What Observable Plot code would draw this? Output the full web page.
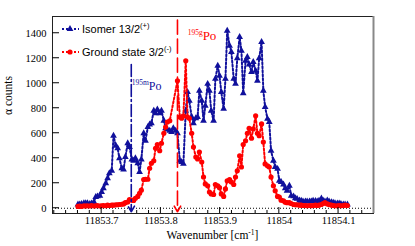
<!DOCTYPE html>
<html>
<head>
<meta charset="utf-8">
<script src="https://cdn.jsdelivr.net/npm/d3@7"></script>
<script src="https://cdn.jsdelivr.net/npm/@observablehq/plot@0.6"></script>
<style>
html,body{margin:0;padding:0;background:#fff;}
#chart svg{display:block;}
</style>
</head>
<body>
<div id="chart"></div>
<script>
// ---- data ----
const wavenumber = [
  11853.660, 11853.663, 11853.666, 11853.670, 11853.673, 11853.676, 11853.680, 11853.683, 11853.687, 11853.690,
  11853.693, 11853.697, 11853.700, 11853.703, 11853.707, 11853.710, 11853.713, 11853.717, 11853.720, 11853.724,
  11853.727, 11853.730, 11853.734, 11853.737, 11853.740, 11853.744, 11853.747, 11853.751, 11853.754, 11853.757,
  11853.761, 11853.764, 11853.767, 11853.771, 11853.774, 11853.778, 11853.781, 11853.784, 11853.788, 11853.791,
  11853.794, 11853.798, 11853.801, 11853.805, 11853.808, 11853.811, 11853.815, 11853.818, 11853.821, 11853.825,
  11853.828, 11853.832, 11853.835, 11853.838, 11853.842, 11853.845, 11853.848, 11853.852, 11853.855, 11853.859,
  11853.862, 11853.865, 11853.869, 11853.872, 11853.875, 11853.879, 11853.882, 11853.885, 11853.889, 11853.892,
  11853.896, 11853.899, 11853.902, 11853.906, 11853.909, 11853.912, 11853.916, 11853.919, 11853.923, 11853.926,
  11853.929, 11853.933, 11853.936, 11853.939, 11853.943, 11853.946, 11853.949, 11853.953, 11853.956, 11853.960,
  11853.963, 11853.966, 11853.970, 11853.973, 11853.976, 11853.980, 11853.983, 11853.986, 11853.990, 11853.993,
  11853.997, 11854.000, 11854.003, 11854.007, 11854.010, 11854.013, 11854.017, 11854.020, 11854.024, 11854.027,
  11854.030, 11854.034, 11854.037, 11854.040, 11854.044, 11854.047, 11854.051, 11854.054, 11854.057, 11854.061,
  11854.064, 11854.067, 11854.071, 11854.074, 11854.077, 11854.081, 11854.084, 11854.088, 11854.091, 11854.094,
  11854.098, 11854.101, 11854.104, 11854.108, 11854.111, 11854.115
];
const isomerCounts = [
  30, 30, 35, 40, 40, 40, 35, 38, 50, 90,
  95, 100, 130, 160, 200, 240, 280, 300, 580, 500,
  480, 400, 320, 310, 410, 520, 490, 390, 380, 400,
  360, 290, 390, 600, 540, 650, 670, 680, 780, 760,
  790, 760, 780, 700, 640, 630, 620, 610, 640, 620,
  600, 380, 370, 355, 780, 930, 860, 730, 680, 720,
  730, 940, 860, 700, 820, 995, 940, 780, 700, 1035,
  1140, 1060, 930, 795, 1035, 1420, 1300, 1250, 1035, 995,
  1200, 1370, 1260, 920, 1180, 1210, 1150, 1090, 1170, 1100,
  1020, 1200, 1330, 940, 810, 715, 690, 460, 380, 330,
  315, 220, 210, 190, 160, 140, 180, 100, 95, 80,
  75, 62, 60, 55, 55, 55, 55, 55, 60, 58,
  55, 60, 78, 60, 55, 62, 55, 48, 45, 40,
  38, 38, 35, 30, 30, 30
];
const groundCounts = [
  15, 18, 15, 20, 18, 20, 18, 22, 18, 20,
  22, 18, 20, 22, 20, 25, 22, 25, 25, 28,
  28, 30, 32, 35, 45, 50, 70, 65, 62, 80,
  95, 120, 145, 230, 232, 232, 320, 360, 380, 480,
  510, 460, 520, 600, 650, 690, 700, null, null, null,
  1020, 730, 720, 740, 1180, 730, 720, 600, 490, 410,
  395, 450, 370, 250, 195, 180, 130, 115, 110, 190,
  180, 165, 115, 95, 155, 220, 230, 210, 190, 250,
  300, 420, 330, 510, 540, 600, 640, 560, 635, 740,
  600, 580, 675, 530, 355, 340, 330, 250, 180, 140,
  95, 90, 65, 60, 48, 45, 45, 38, 30, 28,
  28, 25, 25, 22, 22, 20, 22, 20, 22, 25,
  22, 25, 30, 38, 45, 35, 30, 25, 22, 20,
  20, 22, 20, 22, 25, 22
];
const xTicks = [11853.7, 11853.8, 11853.9, 11854.0, 11854.1];
const xTickLabels = ["11853.7", "11853.8", "11853.9", "11854", "11854.1"];
const xMinorTicks = [11853.62, 11853.64, 11853.66, 11853.68, 11853.72, 11853.74, 11853.76, 11853.78,
  11853.82, 11853.84, 11853.86, 11853.88, 11853.92, 11853.94, 11853.96, 11853.98,
  11854.02, 11854.04, 11854.06, 11854.08, 11854.12, 11854.14];
const yTicks = [0, 200, 400, 600, 800, 1000, 1200, 1400];
const yTickLabels = ["0", "200", "400", "600", "800", "1000", "1200", "1400"];
const xDomain = [11853.617, 11854.159];
const yDomain = [-42, 1534];
const seriesNames = ["Isomer 13/2", "Ground state 3/2"];
const seriesSup = ["(+)", "(-)"];
const markerWavenumber = [11853.750, 11853.828];
const markerTop = [1150, 1505];
const markerBottom = [-28, -28];
const markerIsotope = ["195m", "195g"];
const markerElement = ["Po", "Po"];
const markerLabelWavenumber = [11853.7515, 11853.846];
const markerLabelCount = [940, 1340];

// ---- styles ----
const BLUE = "#10109c";
const RED = "#ff0000";
const SERIF = "Liberation Serif";
const SANS = "Liberation Sans";
const TRI_R = 2.5, CIRC_R = 2.6;

const isoData = wavenumber.map((w, i) => ({w, c: isomerCounts[i]}));
const gsData = wavenumber.map((w, i) => ({w, c: groundCounts[i]})).filter(d => d.c != null);
const markers = markerWavenumber.map((w, i) => ({w, top: markerTop[i], bottom: markerBottom[i]}));

const plot = Plot.plot({
  width: 415,
  height: 246,
  marginLeft: 52,
  marginRight: 42,
  marginTop: 16,
  marginBottom: 33,
  x: {domain: xDomain},
  y: {domain: yDomain},
  style: {fontFamily: SERIF, fontSize: "10.5px", color: "#000", background: "#fff"},
  marks: [
    Plot.ruleY([0], {stroke: "#000", strokeWidth: 1, strokeDasharray: "1,2"}),
    Plot.line(isoData, {x: "w", y: "c", stroke: BLUE, strokeWidth: 2, strokeDasharray: "2,2"}),
    Plot.dot(isoData, {x: "w", y: "c", symbol: "triangle", r: TRI_R, fill: BLUE, stroke: "none"}),
    Plot.line(gsData, {x: "w", y: "c", stroke: RED, strokeWidth: 2, strokeDasharray: "2,2"}),
    Plot.dot(gsData, {x: "w", y: "c", symbol: "circle", r: CIRC_R, fill: RED, stroke: "none"}),
    Plot.arrow(markers.slice(0, 1), {x1: "w", x2: "w", y1: "top", y2: "bottom", stroke: BLUE, strokeWidth: 1.6, strokeDasharray: "12,3,2,3", headLength: 6}),
    Plot.arrow(markers.slice(1, 2), {x1: "w", x2: "w", y1: "top", y2: "bottom", stroke: RED, strokeWidth: 1.6, strokeDasharray: "14,5", headLength: 6}),
    Plot.frame({stroke: "#222", strokeWidth: 1}),
    Plot.axisX({ticks: xTicks, tickSize: 0, tickPadding: 3, label: null, fontSize: 10.5, fontFamily: SERIF,
      tickFormat: d => { const k = xTicks.findIndex(t => Math.abs(t - d) < 1e-9); return k >= 0 ? xTickLabels[k] : String(d); }}),
    Plot.axisY({ticks: yTicks, tickSize: 0, tickPadding: 6, label: null, fontSize: 10.5, fontFamily: SERIF,
      tickFormat: d => { const k = yTicks.indexOf(d); return k >= 0 ? yTickLabels[k] : String(d); }}),
    Plot.text(["α counts"], {frameAnchor: "left", rotate: -90, dx: -44, fontSize: 11.5, fontFamily: SERIF})
  ]
});

document.getElementById("chart").appendChild(plot);

const svg = d3.select(plot);
svg.style("font-family", SERIF);
const sx = plot.scale("x");
const sy = plot.scale("y");
const fLeft = 52, fRight = 415 - 42, fTop = 16, fBottom = 246 - 33;

// tick marks (inside the frame, ROOT style)
const tg = svg.append("g").attr("stroke", "#000").attr("stroke-width", 1);
xTicks.forEach(v => { const x = sx.apply(v); tg.append("line").attr("x1", x).attr("x2", x).attr("y1", fBottom).attr("y2", fBottom - 6); });
xMinorTicks.forEach(v => { const x = sx.apply(v); tg.append("line").attr("x1", x).attr("x2", x).attr("y1", fBottom).attr("y2", fBottom - 3); });
yTicks.forEach(v => { const y = sy.apply(v); tg.append("line").attr("x1", fLeft).attr("x2", fLeft + 7).attr("y1", y).attr("y2", y); });
// right edge shade
svg.append("line").attr("x1", fRight + 0.5).attr("x2", fRight + 0.5).attr("y1", fTop).attr("y2", fBottom)
  .attr("stroke", "#888").attr("stroke-width", 2);

function rich(x, y, parts, o) {
  const t = svg.append("text").attr("x", x).attr("y", y)
    .attr("font-family", o.family).attr("font-size", o.size).attr("fill", o.fill)
    .attr("text-anchor", o.anchor || "start");
  let shifted = false;
  parts.forEach(p => {
    const ts = t.append("tspan").text(p.t);
    if (p.sup) { ts.attr("font-size", o.supSize).attr("dy", -o.supShift); shifted = true; }
    else if (shifted) { ts.attr("dy", o.supShift); shifted = false; }
  });
  return t;
}

// x-axis title
rich((fLeft + fRight) / 2, 239, [{t: "Wavenumber [cm"}, {t: "-1", sup: true}, {t: "]"}],
  {family: SERIF, size: 11.5, supSize: 7.5, supShift: 4.5, fill: "#000", anchor: "middle"});

// marker labels
const markerColors = [BLUE, RED];
const markerSizes = [12, 13];
markerIsotope.forEach((iso, i) => {
  const x = sx.apply(markerLabelWavenumber[i]);
  const y = sy.apply(markerLabelCount[i]);
  rich(x, y, [{t: iso, sup: true}, {t: markerElement[i]}],
    {family: SERIF, size: markerSizes[i], supSize: 7.5, supShift: 5, fill: markerColors[i]});
});

// legend
const legendRows = [29, 52];
const legendColors = [BLUE, RED];
legendRows.forEach((ly, i) => {
  svg.append("line").attr("x1", 62).attr("x2", 79).attr("y1", ly).attr("y2", ly)
    .attr("stroke", legendColors[i]).attr("stroke-width", 2).attr("stroke-dasharray", "2,2");
  const sym = i === 0 ? d3.symbolTriangle : d3.symbolCircle;
  const size = i === 0 ? Math.PI * TRI_R * TRI_R : Math.PI * CIRC_R * CIRC_R;
  svg.append("path").attr("d", d3.symbol(sym, size)()).attr("transform", `translate(70,${ly})`)
    .attr("fill", legendColors[i]);
  rich(82, ly + 4, [{t: seriesNames[i]}, {t: seriesSup[i], sup: true}],
    {family: SANS, size: 11, supSize: 7.5, supShift: 5, fill: "#000"});
});
</script>
</body>
</html>
